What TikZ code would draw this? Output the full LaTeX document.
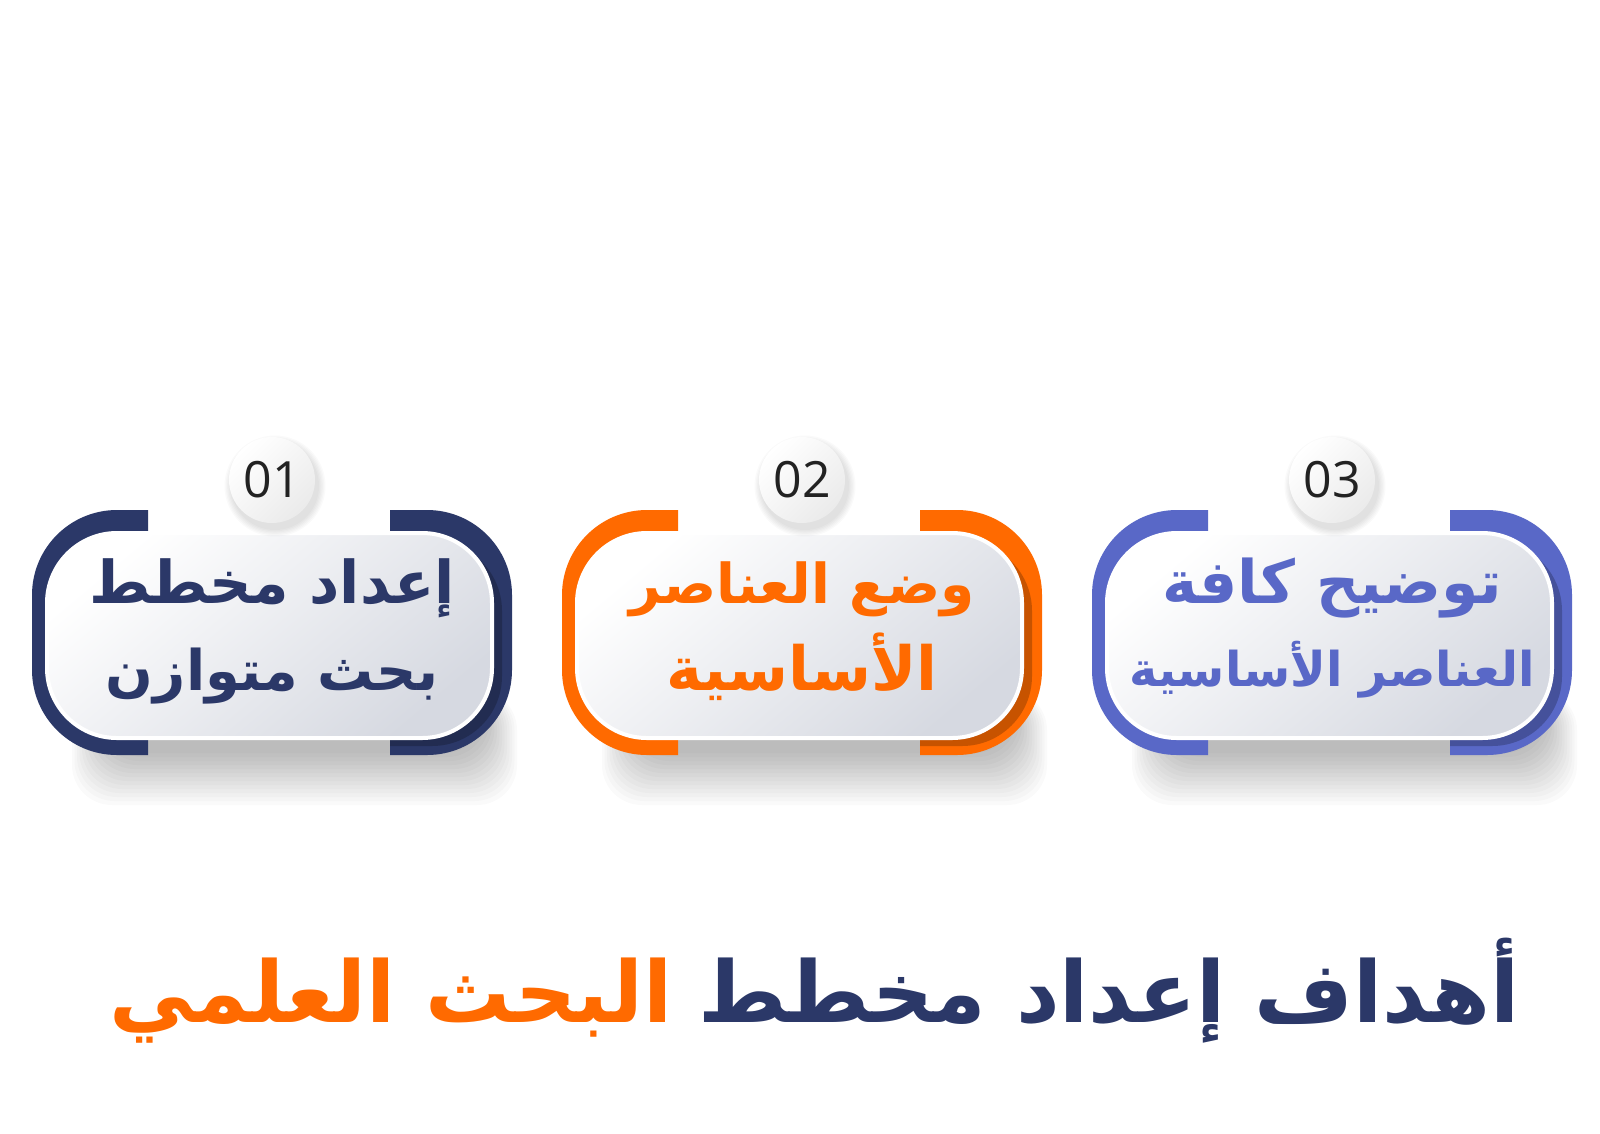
\documentclass[tikz,border=0pt]{standalone}
\usepackage{fontspec}
\TeXXeTstate=1
\newfontfamily\arabicfont[Script=Arabic]{DejaVu Sans}
\newfontfamily\numfont{Open Sans}
\definecolor{navy}{RGB}{43,56,104}
\definecolor{orng}{RGB}{255,106,0}
\definecolor{bluep}{RGB}{89,104,199}
\definecolor{cardgray}{RGB}{214,217,225}
\definecolor{numtext}{RGB}{34,34,34}
\tikzset{
  bracketfill/.style={rounded corners=85pt},
  softshade/.style={black, opacity=0.02},
  cardbox/.style={rounded corners=70pt, draw=white, line width=4pt,
    top color=white, bottom color=cardgray, shading angle=40},
  numcircle/.style={circle, minimum size=86pt, inner sep=0pt,
    top color=white, bottom color=black!8, shading angle=45,
    font=\numfont\fontsize{50}{50}\selectfont, text=numtext},
  cardtext/.style={anchor=base, inner sep=0pt, font=\arabicfont\bfseries\fontsize{#1}{#1}\selectfont},
  titletext/.style={anchor=base east, inner sep=0pt, font=\arabicfont\bfseries\fontsize{85}{85}\selectfont}
}
\newcommand\mycard[8]{%
\begin{scope}[shift={(#1,0)}]
  \foreach \k in {0,...,13}{
    \fill[softshade, rounded corners=40pt] (-200+2.5*\k,690) rectangle (245-2.5*\k,805-4*\k);
  }
  \begin{scope}
    \clip (-300,400) rectangle (-124,800) (118,400) rectangle (300,800);
    \fill[#2, bracketfill] (-240,510) rectangle (240,755);
  \end{scope}
  \begin{scope}
    \clip (118,400) rectangle (300,800);
    \fill[#2!78!black, rounded corners=70pt] (-215,541) rectangle (230,746);
  \end{scope}
  \path[cardbox] (-225,533) rectangle (220,738);
  \foreach \k in {0,...,5}{
    \fill[softshade] (3,486) circle ({44+\k*1.3});
  }
  \node[numcircle] (n#3) at (0,480) {#3};
  \node[cardtext=#6, text=#2] (a#3) at (0,603) {#4};
  \node[cardtext=#7, text=#2] (b#3) at (0,#8) {#5};
\end{scope}}
\begin{document}
\begin{tikzpicture}[x=1pt,y=-1pt]
\fill[white] (0,0) rectangle (1600,1133);
\useasboundingbox (0,0) rectangle (1600,1133);
\mycard{272}{navy}{01}{\beginR إعداد مخطط\endR}{\beginR بحث متوازن\endR}{59}{56}{690}
\mycard{802}{orng}{02}{\beginR وضع العناصر\endR}{\beginR الأساسية\endR}{55}{61}{690}
\mycard{1332}{bluep}{03}{\beginR توضيح كافة\endR}{\beginR العناصر الأساسية\endR}{60}{48}{686}
\node[titletext, text=navy] (t1) at (1520,1022) {\beginR أهداف إعداد مخطط\endR};
\node[titletext, text=orng] (t2) at ([xshift=-26pt]t1.base west) {\beginR البحث العلمي\endR};
\end{tikzpicture}
\end{document}
